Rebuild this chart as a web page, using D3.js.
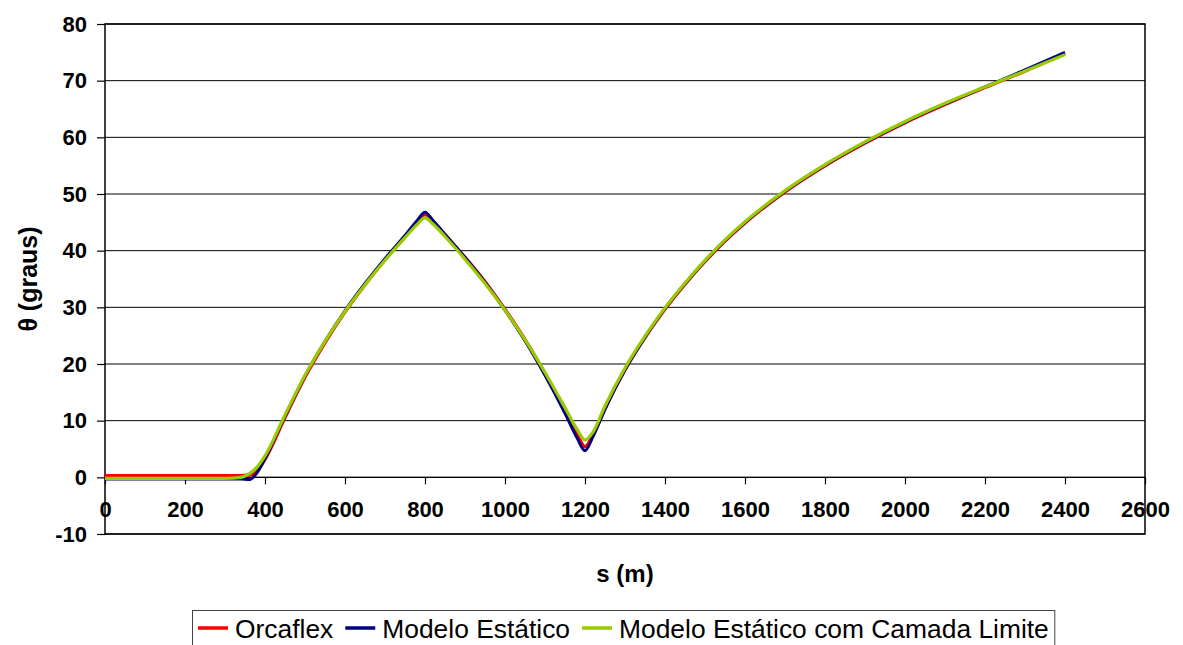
<!DOCTYPE html>
<html>
<head>
<meta charset="utf-8">
<script src="https://cdn.jsdelivr.net/npm/d3@7"></script>
<style>
  html, body { margin: 0; padding: 0; background: #fff; }
  svg { display: block; font-family: "Liberation Sans", Arial, sans-serif; }
</style>
</head>
<body>
<svg id="chart" width="1183" height="645"></svg>
<script>
// Arc length along the line (m)
const sValues = [0, 100, 200, 300, 340, 360, 380, 400, 450, 500, 550, 600, 650, 700, 750, 780, 800, 820, 850, 900, 950, 1000, 1050, 1100, 1150, 1180, 1200, 1220, 1250, 1300, 1350, 1400, 1450, 1500, 1550, 1600, 1700, 1800, 1900, 2000, 2100, 2200, 2300, 2400];

// Angle θ (graus) for each model
const orcaflex = [0.3, 0.3, 0.3, 0.3, 0.3, 0.4, 1.2, 3.2, 10.6, 17.7, 23.8, 29.2, 34.0, 38.4, 42.5, 45.0, 46.4, 45.1, 42.8, 38.8, 34.5, 29.6, 24.3, 18.3, 11.8, 7.6, 5.4, 7.5, 12.2, 19.0, 24.7, 29.7, 34.1, 38.1, 41.7, 44.9, 50.4, 55.0, 59.0, 62.6, 65.8, 68.8, 71.7, 74.8];
const modeloEstatico = [-0.3, -0.3, -0.3, -0.3, -0.3, -0.4, 0.8, 3.3, 10.8, 17.9, 24.0, 29.4, 34.2, 38.6, 42.7, 45.3, 46.8, 45.3, 42.9, 38.8, 34.4, 29.5, 24.1, 18.0, 11.3, 7.0, 4.7, 7.2, 12.0, 19.0, 24.7, 29.8, 34.2, 38.2, 41.8, 45.0, 50.5, 55.1, 59.1, 62.7, 65.9, 68.9, 71.9, 75.0];
const modeloCamadaLimite = [-0.2, -0.2, -0.2, -0.2, 0.0, 0.6, 1.8, 3.8, 11.0, 18.0, 24.0, 29.3, 34.0, 38.3, 42.3, 44.6, 45.8, 44.7, 42.5, 38.5, 34.2, 29.5, 24.3, 18.5, 12.3, 8.5, 6.6, 8.0, 12.6, 19.3, 24.9, 29.9, 34.3, 38.3, 41.9, 45.1, 50.6, 55.2, 59.2, 62.8, 66.0, 68.9, 71.7, 74.6];

const xTicks = [0, 200, 400, 600, 800, 1000, 1200, 1400, 1600, 1800, 2000, 2200, 2400, 2600];
const yTicks = [-10, 0, 10, 20, 30, 40, 50, 60, 70, 80];

const seriesNames = ["Orcaflex", "Modelo Estático", "Modelo Estático com Camada Limite"];
const seriesColors = ["#ff0000", "#000080", "#99cc00"];

const svg = d3.select("#chart");
const plot = { left: 105, right: 1145, top: 24, bottom: 534 };

const x = d3.scaleLinear().domain([0, 2600]).range([plot.left, plot.right]);
const y = d3.scaleLinear().domain([-10, 80]).range([plot.bottom, plot.top]);

// Plain hyphen for negatives, as in the spreadsheet labels
const fmt = d => String(d);

// Horizontal gridlines
svg.append("g")
  .selectAll("line")
  .data(yTicks)
  .join("line")
  .attr("x1", plot.left).attr("x2", plot.right)
  .attr("y1", d => y(d)).attr("y2", d => y(d))
  .attr("stroke", "#000").attr("stroke-width", 1);

// Plot frame
svg.append("rect")
  .attr("x", plot.left).attr("y", plot.top)
  .attr("width", plot.right - plot.left).attr("height", plot.bottom - plot.top)
  .attr("fill", "none").attr("stroke", "#000").attr("stroke-width", 1.5);

// Y axis (ticks outward, labels right-aligned)
const yAxis = d3.axisLeft(y).tickValues(yTicks).tickSize(8).tickPadding(10).tickFormat(fmt);
const gy = svg.append("g").attr("transform", `translate(${plot.left},0)`).call(yAxis);
gy.select(".domain").remove();
gy.selectAll(".tick line").attr("stroke", "#000").attr("stroke-width", 1.2);
gy.selectAll(".tick text")
  .attr("font-size", 22).attr("font-weight", "bold").attr("fill", "#000")
  .attr("font-family", "'Liberation Sans', Arial, sans-serif");

// X axis crossing at θ = 0
const xAxis = d3.axisBottom(x).tickValues(xTicks).tickSize(7).tickPadding(17).tickFormat(fmt);
const gx = svg.append("g").attr("transform", `translate(0,${y(0)})`).call(xAxis);
gx.select(".domain").attr("stroke", "#000").attr("stroke-width", 1.2).attr("d", `M${plot.left},0H${plot.right}`);
gx.selectAll(".tick line").attr("stroke", "#000").attr("stroke-width", 1.2);
gx.selectAll(".tick text")
  .attr("font-size", 22).attr("font-weight", "bold").attr("fill", "#000")
  .attr("font-family", "'Liberation Sans', Arial, sans-serif");

// Curves
const line = d3.line()
  .x(d => x(d[0]))
  .y(d => y(d[1]))
  .curve(d3.curveMonotoneX);

const allSeries = [orcaflex, modeloEstatico, modeloCamadaLimite];
const widths = [3.5, 3, 3.2];
allSeries.forEach((vals, i) => {
  svg.append("path")
    .datum(sValues.map((s, k) => [s, vals[k]]))
    .attr("d", line)
    .attr("fill", "none")
    .attr("stroke", seriesColors[i])
    .attr("stroke-width", widths[i])
    .attr("stroke-linejoin", "round");
});

// Axis titles
svg.append("text")
  .attr("x", (plot.left + plot.right) / 2).attr("y", 582)
  .attr("text-anchor", "middle")
  .attr("font-size", 24).attr("font-weight", "bold")
  .text("s (m)");

svg.append("text")
  .attr("transform", `translate(37,${(plot.top + plot.bottom) / 2}) rotate(-90)`)
  .attr("text-anchor", "middle")
  .attr("font-size", 25).attr("font-weight", "bold")
  .text("θ (graus)");

// Legend
const legend = svg.append("g");
const legendFont = 26.4;
const legendY = 628;
let cursor = 198;
seriesNames.forEach((name, i) => {
  const g = legend.append("g");
  g.append("line")
    .attr("x1", cursor).attr("x2", cursor + 30)
    .attr("y1", legendY).attr("y2", legendY)
    .attr("stroke", seriesColors[i]).attr("stroke-width", 3.5);
  const t = g.append("text")
    .attr("x", cursor + 37).attr("y", legendY + 9.5)
    .attr("font-size", legendFont)
    .attr("fill", "#000")
    .text(name);
  const w = t.node().getComputedTextLength();
  cursor = cursor + 37 + w + 12;
});
legend.insert("rect", ":first-child")
  .attr("x", 192.5).attr("y", 610.5)
  .attr("width", cursor - 12 + 6 - 192.5).attr("height", 50)
  .attr("fill", "#fff").attr("stroke", "#444").attr("stroke-width", 1);
</script>
</body>
</html>
